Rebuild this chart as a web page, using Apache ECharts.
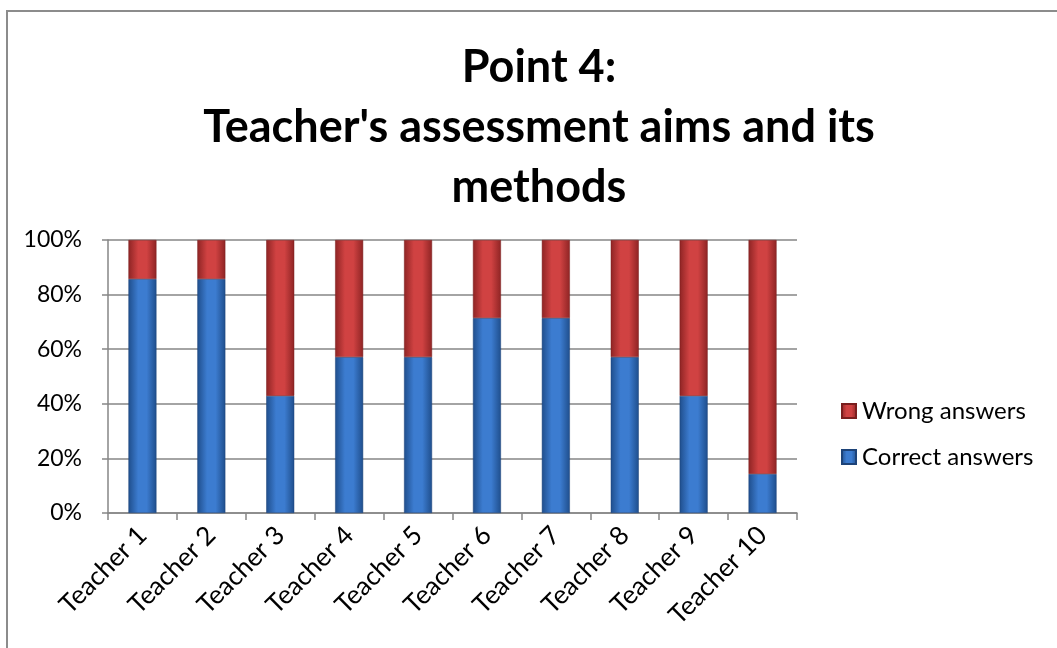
<!DOCTYPE html>
<html>
<head>
<meta charset="utf-8">
<script src="https://cdn.jsdelivr.net/npm/echarts@6/dist/echarts.min.js"></script>
<style>
  html, body { margin: 0; padding: 0; background: #fff; }
  #chart { width: 1057px; height: 648px; }
</style>
</head>
<body>
<div id="chart"></div>
<script>
const teachers = ['Teacher 1', 'Teacher 2', 'Teacher 3', 'Teacher 4', 'Teacher 5',
  'Teacher 6', 'Teacher 7', 'Teacher 8', 'Teacher 9', 'Teacher 10']
// percentages (look like sevenths)
const correct = [85.7, 85.7, 42.9, 57.1, 57.1, 71.4, 71.4, 57.1, 42.9, 14.3]
const wrong = [14.3, 14.3, 57.1, 42.9, 42.9, 28.6, 28.6, 42.9, 57.1, 85.7]
const yTicks = [0, 20, 40, 60, 80, 100]

const chart = echarts.init(document.getElementById('chart'))

// horizontal gradient, darker at the edges like the office 3d bars
const barFill = (edge, mid) => new echarts.graphic.LinearGradient(0, 0, 1, 0, [
  { offset: 0, color: edge },
  { offset: 0.35, color: mid },
  { offset: 0.65, color: mid },
  { offset: 1, color: edge },
])

const font = 'Lato, "Open Sans", sans-serif'

const option = {
  animation: false,
  textStyle: { fontFamily: font },
  graphic: [
    {
      type: 'rect',
      shape: { x: 7, y: 11, width: 1060, height: 650 },
      style: { fill: 'none', stroke: '#8c8c8c', lineWidth: 2 },
    },
  ],
  title: {
    text: "Point 4:\nTeacher's assessment aims and its\nmethods",
    left: 534,
    top: 32,
    textAlign: 'center',
    textStyle: {
      fontFamily: font,
      fontSize: 45,
      fontWeight: 'bold',
      color: '#000',
      lineHeight: 60,
    },
  },
  legend: {
    orient: 'vertical',
    left: 836,
    top: 394,
    itemWidth: 14,
    itemHeight: 14,
    itemGap: 22,
    icon: 'rect',
    data: ['Wrong answers', 'Correct answers'],
    textStyle: { fontFamily: font, fontSize: 24, color: '#000', padding: [0, 0, 0, 1] },
  },
  grid: {
    left: 108,
    right: 260,
    top: 240,
    bottom: 135,
  },
  xAxis: {
    type: 'category',
    data: teachers,
    axisLine: { lineStyle: { color: '#868686', width: 1.5 } },
    axisTick: { show: true, length: 7, lineStyle: { color: '#868686', width: 1.5 } },
    axisLabel: {
      rotate: 45,
      margin: 18,
      fontSize: 26,
      color: '#000',
      fontFamily: font,
    },
  },
  yAxis: {
    type: 'value',
    min: 0,
    max: 100,
    interval: 20,
    axisLine: { show: true, lineStyle: { color: '#868686', width: 1.5 } },
    axisTick: { show: true, length: 6, lineStyle: { color: '#868686', width: 1.5 } },
    splitLine: { lineStyle: { color: '#868686', width: 1.5 } },
    axisLabel: {
      fontSize: 23,
      color: '#000',
      margin: 26,
      fontFamily: font,
      formatter: v => (yTicks.includes(v) ? v + '%' : ''),
    },
  },
  series: [
    {
      name: 'Correct answers',
      type: 'bar',
      stack: 'total',
      barWidth: 28,
      itemStyle: {
        color: barFill('#1f4e8c', '#3c7cd0'),
        borderColor: '#1d4378',
        borderWidth: 0.5,
      },
      data: correct,
    },
    {
      name: 'Wrong answers',
      type: 'bar',
      stack: 'total',
      barWidth: 28,
      itemStyle: {
        color: barFill('#8e2424', '#d04242'),
        borderColor: '#7a1e1e',
        borderWidth: 0.5,
      },
      data: wrong,
    },
  ],
}

chart.setOption(option)
</script>
</body>
</html>
